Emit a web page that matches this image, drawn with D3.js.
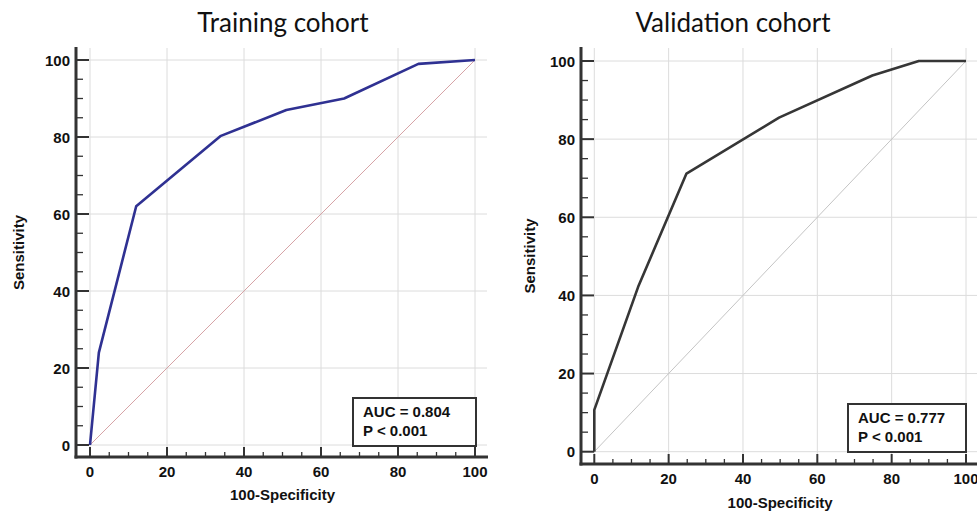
<!DOCTYPE html>
<html>
<head>
<meta charset="utf-8">
<script src="https://cdn.jsdelivr.net/npm/d3@7/dist/d3.min.js"></script>
<style>
  html, body { margin: 0; padding: 0; background: #fff; }
  svg { display: block; }
</style>
</head>
<body>
<svg id="chart" width="977" height="512"></svg>
<script>
// ---- data ----
const panelTitles = ["Training cohort", "Validation cohort"];
const xAxisTitle = "100-Specificity";
const yAxisTitle = "Sensitivity";
const majorTicks = [0, 20, 40, 60, 80, 100];
const tickLabels = ["0", "20", "40", "60", "80", "100"];
const minorTicks = [5, 10, 15, 25, 30, 35, 45, 50, 55, 65, 70, 75, 85, 90, 95];

const trainFPR = [0, 2.3, 12, 34, 51, 66, 85.3, 100];
const trainTPR = [0, 24, 62, 80.3, 87, 90, 99, 100];
const validFPR = [0, 0, 11.8, 24.8, 49.7, 74.8, 87.3, 100];
const validTPR = [0, 10.7, 42.2, 71.2, 85.5, 96.3, 100, 100];

const aucLabels = ["AUC = 0.804", "AUC = 0.777"];
const pLabels = ["P < 0.001", "P < 0.001"];

// ---- layout ----
const panels = [
  { title: panelTitles[0], fpr: trainFPR, tpr: trainTPR, auc: aucLabels[0], p: pLabels[0],
    x0: 90, x1: 475, y0: 445, y1: 60, axisX: 76, axisY: 457, top: 48, right: 487,
    lineColor: "#2f3192", diagColor: "#d6a3a6", titleX: 283,
    box: [353, 398, 476, 446], ylabX: 19, xlabY: 500, tickLabY: 477 },
  { title: panelTitles[1], fpr: validFPR, tpr: validTPR, auc: aucLabels[1], p: pLabels[1],
    x0: 594.3, x1: 966, y0: 451.7, y1: 61, axisX: 581, axisY: 464, top: 48, right: 990,
    lineColor: "#363636", diagColor: "#c4c4c4", titleX: 733,
    box: [848, 404, 966, 452], ylabX: 530, xlabY: 508, tickLabY: 484 }
];

const svg = d3.select("#chart");
const font = "'Liberation Sans', Arial, sans-serif";

panels.forEach(pn => {
  const x = d3.scaleLinear().domain([0, 100]).range([pn.x0, pn.x1]);
  const y = d3.scaleLinear().domain([0, 100]).range([pn.y0, pn.y1]);
  const g = svg.append("g");

  // grid
  g.selectAll(".vg").data(majorTicks).enter().append("line")
    .attr("x1", d => x(d)).attr("x2", d => x(d))
    .attr("y1", pn.top).attr("y2", pn.axisY)
    .attr("stroke", "#dcdcdc").attr("stroke-width", 1);
  g.selectAll(".hg").data(majorTicks).enter().append("line")
    .attr("x1", pn.axisX).attr("x2", pn.right)
    .attr("y1", d => y(d)).attr("y2", d => y(d))
    .attr("stroke", "#dcdcdc").attr("stroke-width", 1);

  // diagonal
  g.append("line")
    .attr("x1", x(0)).attr("y1", y(0)).attr("x2", x(100)).attr("y2", y(100))
    .attr("stroke", pn.diagColor).attr("stroke-width", 1);

  // ROC curve
  const pts = pn.fpr.map((v, i) => [v, pn.tpr[i]]);
  g.append("path")
    .datum(pts)
    .attr("d", d3.line().x(d => x(d[0])).y(d => y(d[1])))
    .attr("fill", "none").attr("stroke", pn.lineColor)
    .attr("stroke-width", 2.6).attr("stroke-linejoin", "round");

  // axes lines
  g.append("line").attr("x1", pn.axisX).attr("x2", pn.axisX)
    .attr("y1", pn.top - 1).attr("y2", pn.axisY + 1.5)
    .attr("stroke", "#333").attr("stroke-width", 3);
  g.append("line").attr("x1", pn.axisX - 1.5).attr("x2", pn.right + 1)
    .attr("y1", pn.axisY).attr("y2", pn.axisY)
    .attr("stroke", "#333").attr("stroke-width", 3);

  // ticks (pointing inward)
  g.selectAll(".ymaj").data(majorTicks).enter().append("line")
    .attr("x1", pn.axisX).attr("x2", pn.axisX + 13)
    .attr("y1", d => y(d)).attr("y2", d => y(d))
    .attr("stroke", "#333").attr("stroke-width", 2);
  g.selectAll(".ymin").data(minorTicks).enter().append("line")
    .attr("x1", pn.axisX).attr("x2", pn.axisX + 7)
    .attr("y1", d => y(d)).attr("y2", d => y(d))
    .attr("stroke", "#333").attr("stroke-width", 1.3);
  g.selectAll(".xmaj").data(majorTicks).enter().append("line")
    .attr("x1", d => x(d)).attr("x2", d => x(d))
    .attr("y1", pn.axisY).attr("y2", pn.axisY - 10)
    .attr("stroke", "#333").attr("stroke-width", 2);
  g.selectAll(".xmin").data(minorTicks).enter().append("line")
    .attr("x1", d => x(d)).attr("x2", d => x(d))
    .attr("y1", pn.axisY).attr("y2", pn.axisY - 5)
    .attr("stroke", "#333").attr("stroke-width", 1.3);

  // tick labels
  g.selectAll(".ylab").data(majorTicks).enter().append("text")
    .attr("x", pn.axisX - 6).attr("y", d => y(d) + 5.5)
    .attr("text-anchor", "end")
    .style("font-family", font).style("font-weight", "bold").style("font-size", "15px")
    .attr("fill", "#111")
    .text((d, i) => tickLabels[i]);
  g.selectAll(".xlab").data(majorTicks).enter().append("text")
    .attr("x", d => x(d)).attr("y", pn.tickLabY)
    .attr("text-anchor", "middle")
    .style("font-family", font).style("font-weight", "bold").style("font-size", "15px")
    .attr("fill", "#111")
    .text((d, i) => tickLabels[i]);

  // axis titles
  g.append("text")
    .attr("x", (pn.x0 + pn.x1) / 2).attr("y", pn.xlabY)
    .attr("text-anchor", "middle")
    .style("font-family", font).style("font-weight", "bold").style("font-size", "15px")
    .attr("fill", "#111")
    .text(xAxisTitle);
  g.append("text")
    .attr("transform", `translate(${pn.ylabX + 5},${(pn.top + pn.axisY) / 2}) rotate(-90)`)
    .attr("text-anchor", "middle")
    .style("font-family", font).style("font-weight", "bold").style("font-size", "15px")
    .attr("fill", "#111")
    .text(yAxisTitle);

  // panel title
  g.append("text")
    .attr("x", pn.titleX).attr("y", 32)
    .attr("text-anchor", "middle")
    .style("font-family", "Lato, 'Open Sans', sans-serif").style("font-size", "26px")
    .attr("fill", "#111")
    .text(pn.title);

  // AUC box
  const b = pn.box;
  g.append("rect")
    .attr("x", b[0]).attr("y", b[1]).attr("width", b[2] - b[0]).attr("height", b[3] - b[1])
    .attr("fill", "#fff").attr("stroke", "#333").attr("stroke-width", 2);
  g.append("text")
    .attr("x", b[0] + 10).attr("y", b[1] + 19)
    .style("font-family", font).style("font-weight", "bold").style("font-size", "15px")
    .attr("fill", "#111").text(pn.auc);
  g.append("text")
    .attr("x", b[0] + 10).attr("y", b[1] + 37.5)
    .style("font-family", font).style("font-weight", "bold").style("font-size", "15px")
    .attr("fill", "#111").text(pn.p);
});
</script>
</body>
</html>
